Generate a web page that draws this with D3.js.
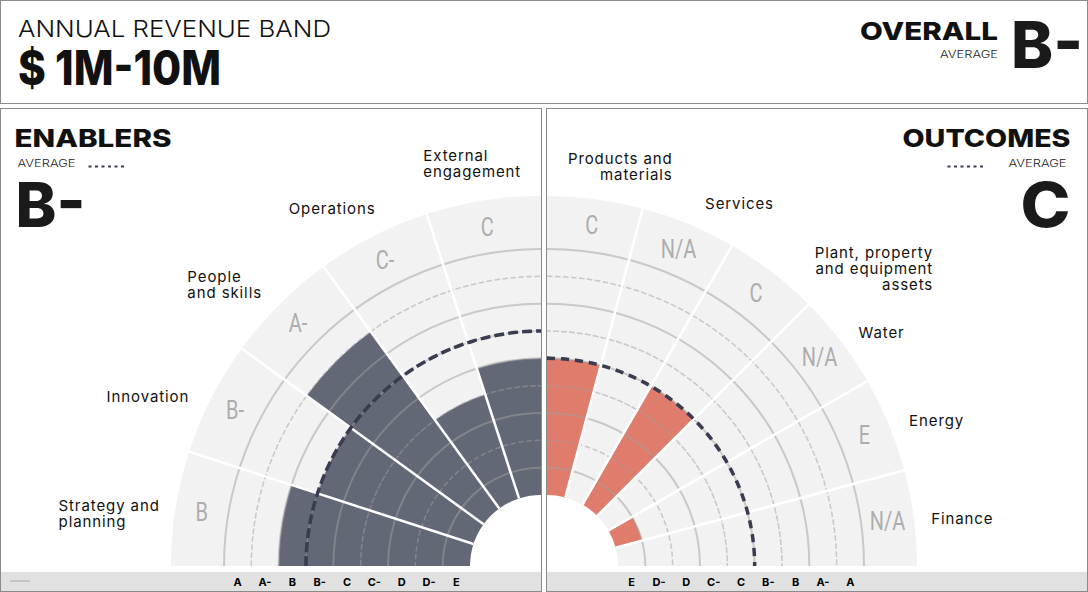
<!DOCTYPE html>
<meta charset="utf-8">
<html>
<head>
    <title>Revenue band scorecard</title>
    <script src="https://cdn.jsdelivr.net/npm/d3@7"></script>
</head>
<style>
    body{
        margin: 0;
        background: #fff;
    }
    svg{
        display: block;
        font-family: Inter, "Noto Sans", sans-serif;
    }
    .frame{
        fill: none;
        stroke: #8a8a8a;
        stroke-width: 1px;
    }
    .cat{
        font-size: 15px;
        letter-spacing: 0.9px;
        fill: #111;
    }
    .gradeLabel{
        font-family: Roboto, sans-serif;
        font-size: 25px;
        fill: #adadad;
    }
    .tick{
        font-size: 11px;
        font-weight: 700;
        fill: #000;
    }
</style>
<body>
<svg width="1088" height="592"></svg>

<script>
    // ---- data ----
    const grades = ["E", "D-", "D", "C-", "C", "B-", "B", "A-", "A"];
    const tickLabels = ["A", "A-", "B", "B-", "C", "C-", "D", "D-", "E"];

    const revenueTitle = "ANNUAL REVENUE BAND";
    const revenueBand = "$ 1M-10M";
    const overallAverage = "B-";

    const enablerNames = ["Strategy and\nplanning", "Innovation", "People\nand skills", "Operations", "External\nengagement"];
    const enablerGrades = ["B", "B-", "A-", "C-", "C"];
    const enablerAverage = "B-";

    const outcomeNames = ["Products and\nmaterials", "Services", "Plant, property\nand equipment\nassets", "Water", "Energy", "Finance"];
    const outcomeGrades = ["C", "N/A", "C", "N/A", "E", "N/A"];
    const outcomeAverage = "C";

    // label placement (degrees from 12 o'clock, distance from chart centre)
    const enablerLabelPolar = [[-83.1, 435], [-66.7, 428], [-48.4, 423], [-30.3, 414], [-9.7, 408]];
    const outcomeLabelPolar = [[10.4, 406], [28, 410], [47.7, 442], [55.1, 408], [69.5, 416], [83.5, 418]];

    const svg = d3.select("svg");
    const W = 1088, H = 592;
    const innerR = 71, gradeR = 317, outerR = 370;
    const cy = 566;

    // ***************************************
    //        header
    // ***************************************
    svg.append("rect").attr("class", "frame")
        .attr("x", 0.5).attr("y", 0.5).attr("width", W - 1).attr("height", 103);
    svg.append("text").text(revenueTitle)
        .attr("x", 18).attr("y", 37)
        .attr("textLength", 313).attr("lengthAdjust", "spacingAndGlyphs")
        .style("font-size", "23px").style("font-weight", 300).style("fill", "#111");
    svg.append("text").text(revenueBand)
        .attr("x", 18).attr("y", 85)
        .attr("textLength", 203).attr("lengthAdjust", "spacingAndGlyphs")
        .style("font-size", "48px").style("font-weight", 800).style("fill", "#111");
    svg.append("text").text("OVERALL")
        .attr("x", 998).attr("y", 40).attr("text-anchor", "end")
        .attr("textLength", 138).attr("lengthAdjust", "spacingAndGlyphs")
        .style("font-size", "25px").style("font-weight", 800).style("fill", "#111");
    svg.append("text").text("AVERAGE")
        .attr("x", 998).attr("y", 58).attr("text-anchor", "end")
        .attr("textLength", 58).attr("lengthAdjust", "spacingAndGlyphs")
        .style("font-size", "10px").style("font-weight", 300).style("fill", "#222");
    svg.append("text").text(overallAverage)
        .attr("x", 1011).attr("y", 68)
        .attr("textLength", 72).attr("lengthAdjust", "spacingAndGlyphs")
        .style("font-size", "64px").style("font-weight", 800).style("fill", "#1a1a1a");

    // ***************************************
    //        one half-radar per panel
    // ***************************************
    const rScale = d3.scaleBand().domain(grades).range([innerR, gradeR]);
    const bw = rScale.bandwidth();
    const outerOf = g => rScale(g) + bw;

    function panel(opt) {
        const side = opt.side;            // -1 left, +1 right
        const px = side < 0 ? 0.5 : 546.5;
        const cx = side < 0 ? 541 : 547;
        const g = svg.append("g");

        g.append("rect").attr("class", "frame")
            .attr("x", px).attr("y", 108.5).attr("width", 541).attr("height", 483);
        g.append("rect")
            .attr("x", px + 0.5).attr("y", 572).attr("width", 540).attr("height", 19)
            .style("fill", "#e1e1e1");

        const aScale = d3.scaleBand().domain(opt.names)
            .range(side < 0 ? [-Math.PI / 2, 0] : [0, Math.PI / 2]);
        const abw = aScale.bandwidth();
        const sectors = opt.names.map((n, i) => ({
            name: n, grade: opt.grades[i],
            a0: aScale(n), a1: aScale(n) + abw, pos: opt.labelPolar[i]
        }));

        const chart = g.append("g").attr("transform", `translate(${cx},${cy})`);
        const arc = d3.arc();

        // background sectors
        chart.selectAll("path.bg").data(sectors).join("path")
            .attr("class", "bg")
            .attr("d", d => arc({innerRadius: innerR, outerRadius: outerR, startAngle: d.a0, endAngle: d.a1}))
            .style("fill", "#f2f2f2");

        // bars
        chart.selectAll("path.bar").data(sectors.filter(d => grades.includes(d.grade))).join("path")
            .attr("class", "bar")
            .attr("d", d => arc({innerRadius: innerR, outerRadius: outerOf(d.grade), startAngle: d.a0, endAngle: d.a1}))
            .style("fill", opt.color);

        // grade rings
        const span = side < 0 ? [-Math.PI / 2, 0] : [0, Math.PI / 2];
        chart.selectAll("path.ring").data(grades).join("path")
            .attr("class", "ring")
            .attr("d", gr => arc({innerRadius: outerOf(gr), outerRadius: outerOf(gr), startAngle: span[0], endAngle: span[1]}))
            .style("fill", "none")
            .style("stroke", "rgba(160,160,160,0.5)")
            .style("stroke-width", gr => gr.includes("-") ? 1.5 : 2)
            .style("stroke-dasharray", gr => gr.includes("-") ? "4,4" : null);

        // white separators between sectors
        chart.selectAll("line.sep").data(sectors.slice(0, -1)).join("line")
            .attr("class", "sep")
            .attr("x1", d => innerR * Math.sin(d.a1))
            .attr("y1", d => -innerR * Math.cos(d.a1))
            .attr("x2", d => (outerR + 2) * Math.sin(d.a1))
            .attr("y2", d => -(outerR + 2) * Math.cos(d.a1))
            .style("stroke", "#fff").style("stroke-width", 2.5);

        // average line
        chart.append("path")
            .attr("d", arc({innerRadius: outerOf(opt.average), outerRadius: outerOf(opt.average), startAngle: span[0], endAngle: span[1]}))
            .style("fill", "none").style("stroke", "#3a3c50")
            .style("stroke-width", 3.5).style("stroke-dasharray", "8,6");

        // grade letters in the outer band
        const labR = (gradeR + outerR) / 2;
        chart.selectAll("text.gradeLabel").data(sectors).join("text")
            .attr("class", "gradeLabel")
            .attr("transform", d => {
                const m = (d.a0 + d.a1) / 2;
                return `translate(${labR * Math.sin(m)},${-labR * Math.cos(m)}) scale(0.8,1)`;
            })
            .attr("text-anchor", "middle").attr("dy", "0.36em")
            .text(d => d.grade);

        // category names
        chart.selectAll("g.cat").data(sectors).join("g")
            .attr("class", "cat")
            .attr("transform", d => {
                const a = d.pos[0] * Math.PI / 180;
                return `translate(${d.pos[1] * Math.sin(a)},${-d.pos[1] * Math.cos(a)})`;
            })
            .each(function (d) {
                const lines = d.name.split("\n");
                const t = d3.select(this).selectAll("text").data(lines).join("text")
                    .attr("y", (l, i) => (i - (lines.length - 1) / 2) * 16)
                    .attr("dy", "0.35em")
                    .text(l => l);
                const w = d3.max(t.nodes(), n => n.getComputedTextLength());
                t.attr("x", side < 0 ? -w / 2 : w / 2)
                    .attr("text-anchor", side < 0 ? "start" : "end");
            });

        // radial axis along the bottom strip
        g.selectAll("text.tick").data(tickLabels).join("text")
            .attr("class", "tick")
            .attr("x", t => cx + side * (rScale(t) + bw / 2))
            .attr("y", 586)
            .attr("text-anchor", "middle")
            .text(t => t);

        // heading block
        const hx = side < 0 ? px + 14 : px + 524;
        const anchor = side < 0 ? "start" : "end";
        g.append("text").text(opt.title)
            .attr("x", hx).attr("y", 147).attr("text-anchor", anchor)
            .attr("textLength", opt.titleLen).attr("lengthAdjust", "spacingAndGlyphs")
            .style("font-size", "24px").style("font-weight", 800).style("fill", "#111");
        g.append("text").text("AVERAGE")
            .attr("x", side < 0 ? px + 17 : px + 520).attr("y", 167).attr("text-anchor", anchor)
            .attr("textLength", 58).attr("lengthAdjust", "spacingAndGlyphs")
            .style("font-size", "10px").style("font-weight", 300).style("fill", "#222");
        const lx = side < 0 ? px + 88 : px + 401;
        g.append("line")
            .attr("x1", lx).attr("x2", lx + 37).attr("y1", 166.5).attr("y2", 166.5)
            .style("stroke", "#3a3c50").style("stroke-width", 2).style("stroke-dasharray", "3,3.5");
        g.append("text").text(opt.average)
            .attr("x", side < 0 ? px + 15 : px + 524).attr("y", 227).attr("text-anchor", anchor)
            .attr("textLength", opt.avgLen).attr("lengthAdjust", "spacingAndGlyphs")
            .style("font-size", "62px").style("font-weight", 800).style("fill", "#1a1a1a");

        if (side < 0) {
            g.append("line")
                .attr("x1", 10).attr("x2", 30).attr("y1", 581).attr("y2", 581)
                .style("stroke", "#c4c4c4").style("stroke-width", 2);
        }
    }

    panel({side: -1, names: enablerNames, grades: enablerGrades, average: enablerAverage,
        labelPolar: enablerLabelPolar, color: "#636876", title: "ENABLERS", titleLen: 157, avgLen: 70});
    panel({side: 1, names: outcomeNames, grades: outcomeGrades, average: outcomeAverage,
        labelPolar: outcomeLabelPolar, color: "#e07c6b", title: "OUTCOMES", titleLen: 168, avgLen: 50});
</script>
</body>
</html>
